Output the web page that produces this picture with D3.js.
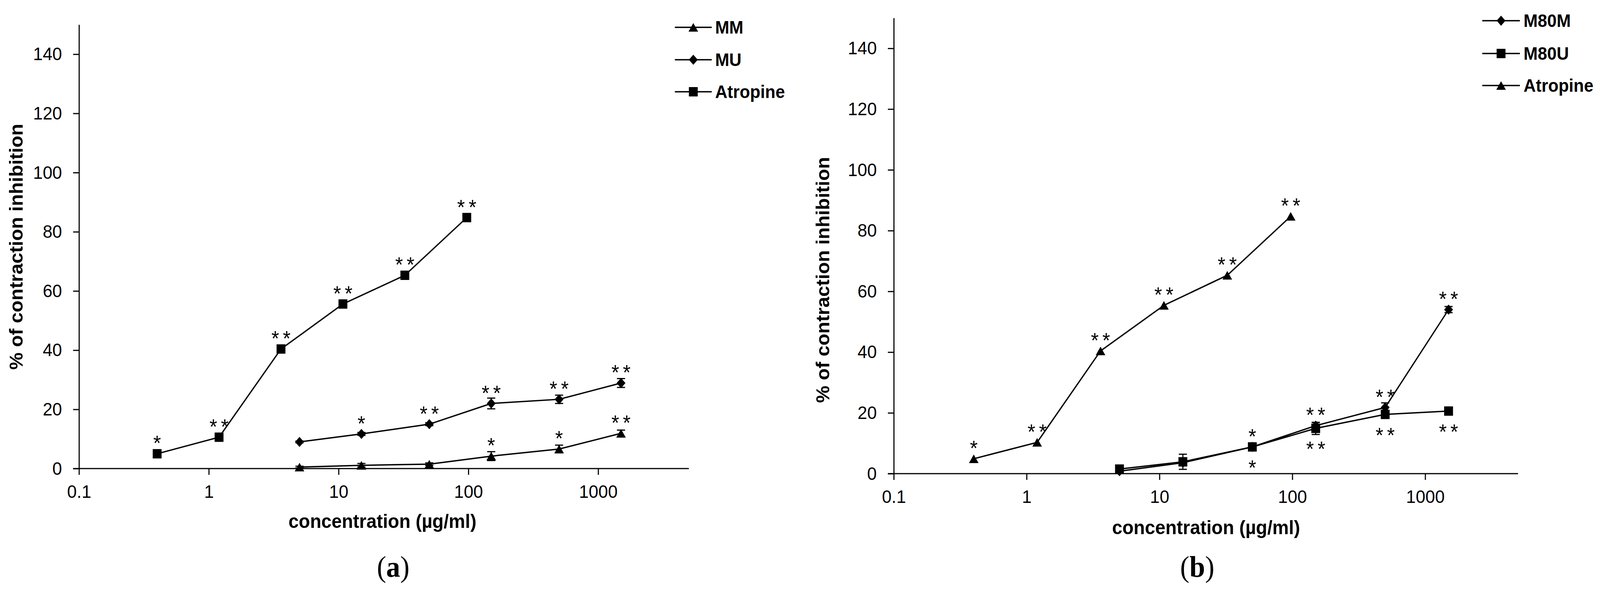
<!DOCTYPE html>
<html>
<head>
<meta charset="utf-8">
<script src="https://cdn.jsdelivr.net/npm/d3@7"></script>
<style>
    html, body { margin: 0; padding: 0; width: 100%; height: 100%; overflow: hidden; background: white; }
    #chart, svg { display: block; width: 100%; height: 100%; }
</style>
</head>
<body>
<div id="chart"></div>
<script>
// concentrations (µg/ml)
const atropineConc = [0.4, 1.2, 3.6, 10.8, 32.4, 97.2];
const extractConc = [5, 15, 50, 150, 500, 1500];

// panel (a)
const mmValues = [0.5, 1.1, 1.5, 4.2, 6.6, 11.9];
const mmErrors = [0.3, 0.6, 0.4, 1.5, 1.3, 1.1];
const mmStars = ["", "", "", "*", "*", "**"];
const muValues = [9.0, 11.7, 15.0, 22.0, 23.4, 28.9];
const muErrors = [0.3, 0.5, 0.5, 1.8, 1.4, 1.5];
const muStars = ["", "*", "**", "**", "**", "**"];
const atropineA = [5.0, 10.6, 40.4, 55.6, 65.3, 84.8];
const atropineAStars = ["*", "**", "**", "**", "**", "**"];

// panel (b)
const m80mValues = [0.8, 3.6, 8.8, 15.8, 21.8, 54.0];
const m80mErrors = [0.3, 1.0, 0.5, 1.0, 1.5, 1.0];
const m80mStars = ["", "", "*", "**", "**", "**"];
const m80uValues = [1.5, 3.9, 8.8, 14.9, 19.5, 20.6];
const m80uErrors = [0.4, 2.5, 0.6, 2.0, 1.0, 0.6];
const m80uStars = ["", "", "*", "**", "**", "**"];
const atropineB = [4.9, 10.3, 40.4, 55.4, 65.3, 84.7];
const atropineBStars = ["*", "**", "**", "**", "**", "**"];

const yTicks = [0, 20, 40, 60, 80, 100, 120, 140];
const xTicks = [0.1, 1, 10, 100, 1000];
const xTickLabels = ["0.1", "1", "10", "100", "1000"];

const sans = "'Liberation Sans', Arial, sans-serif";
const serif = "'Liberation Serif', 'Times New Roman', serif";

// the drawing is laid out in 4334x1511 units and stretched to the window
const svg = d3.select("#chart").append("svg")
    .attr("viewBox", "0 0 4334 1511")
    .attr("preserveAspectRatio", "none");

function series(name, shape, x, y, err, stars, starSide) {
    return {name: name, shape: shape, x: x, y: y, err: err, stars: stars, starSide: starSide};
}

const panels = [
    {
        label: "a", left: 214, right: 1866, top: 63, bottom: 1200,
        yTitle: [44, 632], xTitle: [1036, 1352], tag: [1065, 1477],
        legend: {x1: 1828, x2: 1928, rows: [70, 153, 235], textX: 1937},
        series: [
            series("MM", "triangle", extractConc, mmValues, mmErrors, mmStars, -1),
            series("MU", "diamond", extractConc, muValues, muErrors, muStars, -1),
            series("Atropine", "square", atropineConc, atropineA, null, atropineAStars, -1)
        ]
    },
    {
        label: "b", left: 2421, right: 4112, top: 46, bottom: 1213,
        yTitle: [2229, 717], xTitle: [3267, 1368], tag: [3243, 1477],
        legend: {x1: 4015, x2: 4117, rows: [53, 137, 219], textX: 4127},
        series: [
            series("M80M", "diamond", extractConc, m80mValues, m80mErrors, m80mStars, -1),
            series("M80U", "square", extractConc, m80uValues, m80uErrors, m80uStars, 1),
            series("Atropine", "triangle", atropineConc, atropineB, null, atropineBStars, -1)
        ]
    }
];

/** Marker paths */
function markerPath(shape) {
    if (shape === "square") {
        return "M-12,-12H12V12H-12Z";
    }
    else if (shape === "diamond") {
        return "M0,-13L12,0L0,13L-12,0Z";
    }
    else {
        return "M0,-11L13,11H-13Z";
    }
}

function drawPanel(p) {
    const g = svg.append("g");
    const x = d3.scaleLog().domain([0.1, 5000]).range([p.left, p.right]);
    const y = d3.scaleLinear().domain([0, 150]).range([p.bottom, p.top]);

    // y axis
    const yAxis = d3.axisLeft(y).tickValues(yTicks).tickSize(16).tickPadding(30).tickSizeOuter(0);
    const ya = g.append("g").attr("transform", `translate(${p.left},0)`).call(yAxis);
    ya.select(".domain").attr("stroke", "#000").attr("stroke-width", 3);
    ya.selectAll(".tick line").attr("stroke-width", 3);
    ya.selectAll(".tick text").attr("font-family", sans).attr("font-size", 47).attr("fill", "#000");

    // x axis, the line starts at the end of the zero tick
    const xAxis = d3.axisBottom(x).tickValues(xTicks).tickSize(16).tickPadding(26).tickSizeOuter(0)
        .tickFormat((d, i) => xTickLabels[i]);
    const xa = g.append("g").attr("transform", `translate(0,${p.bottom})`).call(xAxis);
    xa.select(".domain").attr("d", `M${p.left - 16},0H${p.right}`).attr("stroke", "#000").attr("stroke-width", 3);
    xa.selectAll(".tick line").attr("stroke-width", 3);
    xa.selectAll(".tick text").attr("font-family", sans).attr("font-size", 47).attr("fill", "#000");

    const line = d3.line().x(d => x(d[0])).y(d => y(d[1]));

    p.series.forEach(s => {
        const pts = s.x.map((v, i) => [v, s.y[i]]);
        g.append("path").datum(pts).attr("d", line)
            .attr("fill", "none").attr("stroke", "#000").attr("stroke-width", 3.5);

        if (s.err) {
            pts.forEach((d, i) => {
                const cx = x(d[0]);
                const y1 = y(d[1] + s.err[i]);
                const y2 = y(d[1] - s.err[i]);
                g.append("path")
                    .attr("d", `M${cx},${y1}V${y2}M${cx - 11},${y1}H${cx + 11}M${cx - 11},${y2}H${cx + 11}`)
                    .attr("stroke", "#000").attr("stroke-width", 3).attr("fill", "none");
            });
        }

        g.selectAll(null).data(pts).enter().append("path")
            .attr("d", markerPath(s.shape))
            .attr("transform", d => `translate(${x(d[0])},${y(d[1])})`)
            .attr("fill", "#000");

        // significance stars
        g.selectAll(null).data(pts).enter().append("text")
            .attr("x", d => x(d[0]) + 5)
            .attr("y", d => y(d[1]) + s.starSide * 40 + 0.58 * 54)
            .attr("text-anchor", "middle")
            .attr("font-family", sans).attr("font-size", 54)
            .attr("letter-spacing", 10)
            .text((d, i) => s.stars[i]);
    });

    // legend
    p.series.forEach((s, i) => {
        const ly = p.legend.rows[i];
        g.append("line").attr("x1", p.legend.x1).attr("x2", p.legend.x2)
            .attr("y1", ly).attr("y2", ly).attr("stroke", "#000").attr("stroke-width", 3.5);
        g.append("path").attr("d", markerPath(s.shape))
            .attr("transform", `translate(${(p.legend.x1 + p.legend.x2) / 2},${ly})`)
            .attr("fill", "#000");
        g.append("text").attr("x", p.legend.textX).attr("y", ly + 16.5)
            .attr("font-family", sans).attr("font-weight", "bold").attr("font-size", 46)
            .text(s.name);
    });

    // axis titles
    g.append("text")
        .attr("transform", `translate(${p.yTitle[0]},${p.yTitle[1]}) rotate(-90)`)
        .attr("text-anchor", "middle").attr("dominant-baseline", "central")
        .attr("font-family", sans).attr("font-weight", "bold").attr("font-size", 50)
        .text("% of contraction inhibition");
    g.append("text")
        .attr("x", p.xTitle[0]).attr("y", p.xTitle[1])
        .attr("text-anchor", "middle")
        .attr("font-family", sans).attr("font-weight", "bold").attr("font-size", 50)
        .text("concentration (µg/ml)");

    // panel tag like (a)
    const tag = g.append("text")
        .attr("x", p.tag[0]).attr("y", p.tag[1])
        .attr("text-anchor", "middle")
        .attr("font-family", serif).attr("font-size", 76);
    tag.append("tspan").text("(");
    tag.append("tspan").attr("font-weight", "bold").text(p.label);
    tag.append("tspan").text(")");
}

panels.forEach(drawPanel);
</script>
</body>
</html>
